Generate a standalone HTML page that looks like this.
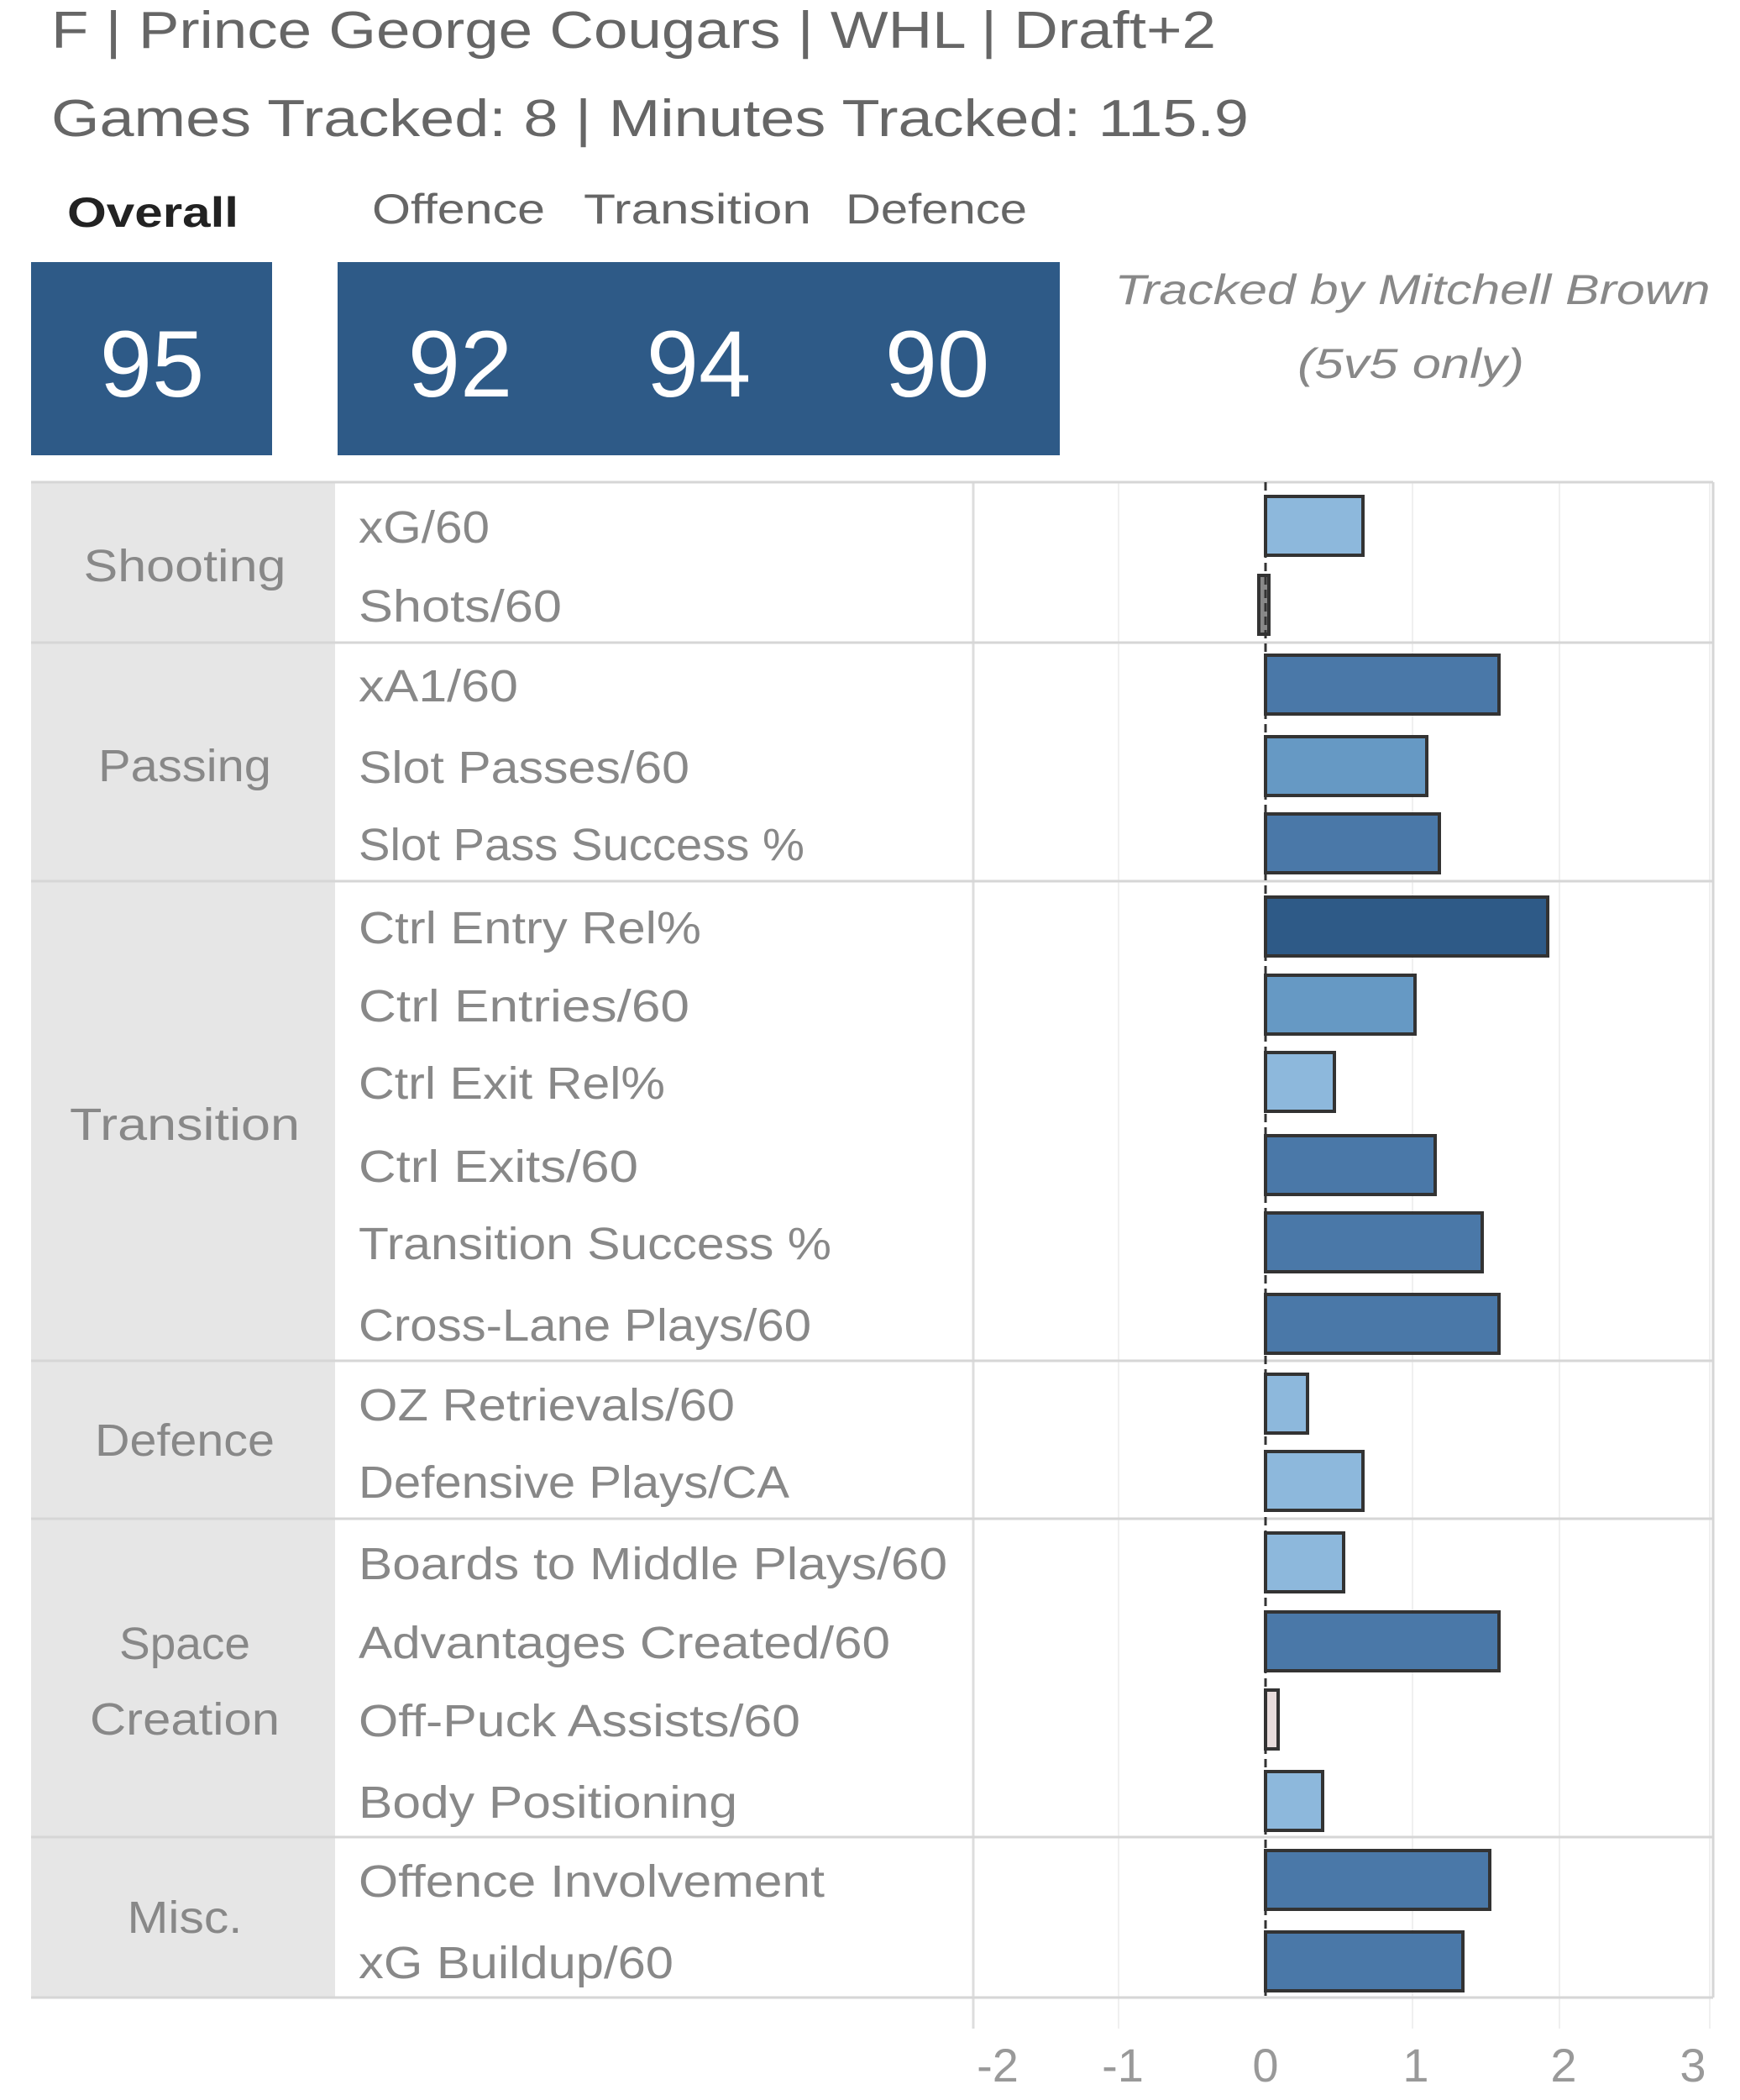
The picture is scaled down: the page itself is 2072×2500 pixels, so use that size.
<!DOCTYPE html>
<html><head><meta charset="utf-8"><style>html,body{margin:0;padding:0;background:#fff}svg{display:block}</style></head>
<body>
<svg width="2072" height="2500" viewBox="0 0 2072 2500" xmlns="http://www.w3.org/2000/svg" font-family="Liberation Sans, sans-serif">
<rect width="2072" height="2500" fill="#fff"/>
<text x="61" y="57" font-size="62" fill="#666" textLength="1387" lengthAdjust="spacingAndGlyphs">F | Prince George Cougars | WHL | Draft+2</text>
<text x="61" y="162" font-size="62" fill="#666" textLength="1426" lengthAdjust="spacingAndGlyphs">Games Tracked: 8 | Minutes Tracked: 115.9</text>
<g font-size="50">
<text x="80" y="270" font-weight="bold" fill="#222" textLength="204" lengthAdjust="spacingAndGlyphs">Overall</text>
<text x="443" y="266" fill="#666" textLength="206" lengthAdjust="spacingAndGlyphs">Offence</text>
<text x="695" y="266" fill="#666" textLength="271" lengthAdjust="spacingAndGlyphs">Transition</text>
<text x="1007" y="266" fill="#666" textLength="216" lengthAdjust="spacingAndGlyphs">Defence</text>
</g>
<rect x="37" y="312" width="287" height="230" fill="#2e5a87"/>
<rect x="402" y="312" width="860" height="230" fill="#2e5a87"/>
<g font-size="112" fill="#fff" text-anchor="middle">
<text x="181" y="472">95</text><text x="548" y="472">92</text><text x="832" y="472">94</text><text x="1116" y="472">90</text>
</g>
<g font-size="50" fill="#888" font-style="italic" text-anchor="middle">
<text x="1682" y="362" textLength="709" lengthAdjust="spacingAndGlyphs">Tracked by Mitchell Brown</text>
<text x="1680" y="450" textLength="270" lengthAdjust="spacingAndGlyphs">(5v5 only)</text>
</g>
<rect x="37" y="574" width="362" height="1804" fill="#e6e6e6"/>
<g stroke="#f0f0f0" stroke-width="2">
<line x1="1332" y1="574" x2="1332" y2="2415"/><line x1="1682" y1="574" x2="1682" y2="2415"/><line x1="1857" y1="574" x2="1857" y2="2415"/><line x1="2036" y1="574" x2="2036" y2="2415"/>
</g>
<line x1="1159" y1="574" x2="1159" y2="2415" stroke="#ddd" stroke-width="3"/>
<g stroke="#d6d6d6" stroke-width="3">
<line x1="37" y1="574" x2="2040" y2="574"/><line x1="37" y1="765" x2="2040" y2="765"/><line x1="37" y1="1049" x2="2040" y2="1049"/><line x1="37" y1="1620" x2="2040" y2="1620"/><line x1="37" y1="1808" x2="2040" y2="1808"/><line x1="37" y1="2187" x2="2040" y2="2187"/><line x1="37" y1="2378" x2="2040" y2="2378"/>
<line x1="2040" y1="574" x2="2040" y2="2378"/>
</g>
<g font-size="54" fill="#888" text-anchor="middle">
<text x="220" y="692" textLength="241" lengthAdjust="spacingAndGlyphs">Shooting</text>
<text x="220" y="930" textLength="206" lengthAdjust="spacingAndGlyphs">Passing</text>
<text x="220" y="1357" textLength="274" lengthAdjust="spacingAndGlyphs">Transition</text>
<text x="220" y="1733" textLength="214" lengthAdjust="spacingAndGlyphs">Defence</text>
<text x="220" y="1975" textLength="156" lengthAdjust="spacingAndGlyphs">Space</text>
<text x="220" y="2065" textLength="226" lengthAdjust="spacingAndGlyphs">Creation</text>
<text x="220" y="2301" textLength="137" lengthAdjust="spacingAndGlyphs">Misc.</text>
</g>
<g font-size="54" fill="#888">
<text x="427" y="646" textLength="156" lengthAdjust="spacingAndGlyphs">xG/60</text>
<text x="427" y="740" textLength="242" lengthAdjust="spacingAndGlyphs">Shots/60</text>
<text x="427" y="835" textLength="190" lengthAdjust="spacingAndGlyphs">xA1/60</text>
<text x="427" y="932" textLength="394" lengthAdjust="spacingAndGlyphs">Slot Passes/60</text>
<text x="427" y="1024" textLength="531" lengthAdjust="spacingAndGlyphs">Slot Pass Success %</text>
<text x="427" y="1123" textLength="408" lengthAdjust="spacingAndGlyphs">Ctrl Entry Rel%</text>
<text x="427" y="1216" textLength="394" lengthAdjust="spacingAndGlyphs">Ctrl Entries/60</text>
<text x="427" y="1308" textLength="365" lengthAdjust="spacingAndGlyphs">Ctrl Exit Rel%</text>
<text x="427" y="1407" textLength="333" lengthAdjust="spacingAndGlyphs">Ctrl Exits/60</text>
<text x="427" y="1499" textLength="563" lengthAdjust="spacingAndGlyphs">Transition Success %</text>
<text x="427" y="1596" textLength="539" lengthAdjust="spacingAndGlyphs">Cross-Lane Plays/60</text>
<text x="427" y="1691" textLength="448" lengthAdjust="spacingAndGlyphs">OZ Retrievals/60</text>
<text x="427" y="1783" textLength="513" lengthAdjust="spacingAndGlyphs">Defensive Plays/CA</text>
<text x="427" y="1880" textLength="701" lengthAdjust="spacingAndGlyphs">Boards to Middle Plays/60</text>
<text x="427" y="1974" textLength="633" lengthAdjust="spacingAndGlyphs">Advantages Created/60</text>
<text x="427" y="2067" textLength="526" lengthAdjust="spacingAndGlyphs">Off-Puck Assists/60</text>
<text x="427" y="2164" textLength="451" lengthAdjust="spacingAndGlyphs">Body Positioning</text>
<text x="427" y="2258" textLength="555" lengthAdjust="spacingAndGlyphs">Offence Involvement</text>
<text x="427" y="2355" textLength="375" lengthAdjust="spacingAndGlyphs">xG Buildup/60</text>
</g>
<g stroke="#333" stroke-width="4">
<rect x="1507" y="591" width="116" height="70" fill="#8db8dc"/>
<rect x="1499" y="685" width="12" height="70" fill="#888"/>
<rect x="1507" y="780" width="278" height="70" fill="#4a78a8"/>
<rect x="1507" y="877" width="192" height="70" fill="#6699c4"/>
<rect x="1507" y="969" width="207" height="70" fill="#4a78a8"/>
<rect x="1507" y="1068" width="336" height="70" fill="#2e5a87"/>
<rect x="1507" y="1161" width="178" height="70" fill="#6699c4"/>
<rect x="1507" y="1253" width="82" height="70" fill="#8db8dc"/>
<rect x="1507" y="1352" width="202" height="70" fill="#4a78a8"/>
<rect x="1507" y="1444" width="258" height="70" fill="#4a78a8"/>
<rect x="1507" y="1541" width="278" height="70" fill="#4a78a8"/>
<rect x="1507" y="1636" width="50" height="70" fill="#8db8dc"/>
<rect x="1507" y="1728" width="116" height="70" fill="#8db8dc"/>
<rect x="1507" y="1825" width="93" height="70" fill="#8db8dc"/>
<rect x="1507" y="1919" width="278" height="70" fill="#4a78a8"/>
<rect x="1507" y="2012" width="15" height="70" fill="#e8dcdc"/>
<rect x="1507" y="2109" width="68" height="70" fill="#8db8dc"/>
<rect x="1507" y="2203" width="267" height="70" fill="#4a78a8"/>
<rect x="1507" y="2300" width="235" height="70" fill="#4a78a8"/>
</g>
<line x1="1507" y1="574" x2="1507" y2="2378" stroke="#333" stroke-width="3" stroke-dasharray="10,6"/>
<g font-size="56" fill="#999" text-anchor="middle">
<text x="1188" y="2478">-2</text><text x="1337" y="2478">-1</text><text x="1507" y="2478">0</text><text x="1686" y="2478">1</text><text x="1862" y="2478">2</text><text x="2016" y="2478">3</text>
</g>
</svg>
</body></html>
